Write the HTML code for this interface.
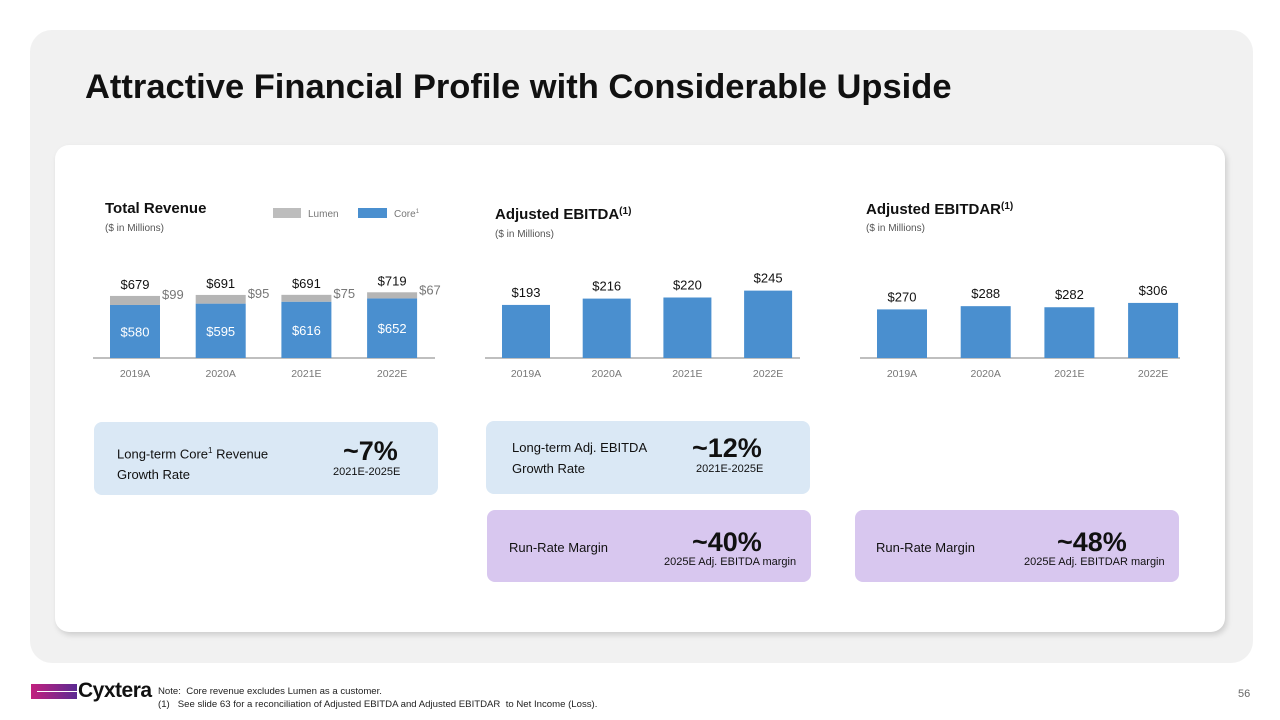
<!DOCTYPE html>
<html><head><meta charset="utf-8">
<style>
body{margin:0;width:1280px;height:720px;background:#fff;position:relative;overflow:hidden;font-family:"Liberation Sans",Arial,sans-serif;}
.abs{position:absolute;}
.panel{left:30px;top:30px;width:1223px;height:633px;background:#f1f1f1;border-radius:22px;}
.card{left:55px;top:145px;width:1170px;height:487px;background:#fff;border-radius:14px;box-shadow:2px 3px 6px rgba(0,0,0,0.15);}
h1{position:absolute;left:85px;top:68px;margin:0;font-size:34.5px;font-weight:bold;color:#111;white-space:nowrap;}
.box{position:absolute;border-radius:8px;}
.blue{background:#dae8f5;}
.purple{background:#d8c7ef;}
.t{position:absolute;font-size:13px;color:#111;line-height:21px;}
.big{position:absolute;font-size:27px;font-weight:bold;color:#111;}
.sm{position:absolute;font-size:11px;color:#111;}
</style></head><body>
<div class="abs panel"></div>
<div class="abs card"></div>
<h1>Attractive Financial Profile with Considerable Upside</h1>

<svg class="abs" style="left:0;top:0" width="1280" height="720" font-family="Liberation Sans, Arial, sans-serif">
<g id="c1"></g>
<g id="c2"></g>
<g id="c3"></g>
<text x="105" y="213" font-size="15" font-weight="bold" fill="#111">Total Revenue</text>
<text x="105" y="231" font-size="10" fill="#555">($ in Millions)</text>
<rect x="273" y="208" width="28" height="10" fill="#bdbdbd"/>
<text x="308" y="217" font-size="10" fill="#777">Lumen</text>
<rect x="358" y="208" width="29" height="10" fill="#4a8fcf"/>
<text x="394" y="217" font-size="10" fill="#777">Core<tspan font-size="6" dy="-4">1</tspan></text>
<text x="495" y="219" font-size="15" font-weight="bold" fill="#111">Adjusted EBITDA<tspan font-size="10" dy="-5">(1)</tspan></text>
<text x="495" y="237" font-size="10" fill="#555">($ in Millions)</text>
<text x="866" y="214" font-size="15" font-weight="bold" fill="#111">Adjusted EBITDAR<tspan font-size="10" dy="-5">(1)</tspan></text>
<text x="866" y="231" font-size="10" fill="#555">($ in Millions)</text>
</svg>

<div class="box blue" style="left:94px;top:422px;width:344px;height:73px;"></div>
<div class="t" style="left:117px;top:440px;">Long-term Core<sup style="font-size:8px">1</sup> Revenue<br>Growth Rate</div>
<div class="big" style="left:343px;top:436px;">~7%</div>
<div class="sm" style="left:333px;top:466px;">2021E-2025E</div>

<div class="box blue" style="left:486px;top:421px;width:324px;height:73px;"></div>
<div class="t" style="left:512px;top:437px;">Long-term Adj. EBITDA<br>Growth Rate</div>
<div class="big" style="left:692px;top:433px;">~12%</div>
<div class="sm" style="left:696px;top:463px;">2021E-2025E</div>

<div class="box purple" style="left:487px;top:510px;width:324px;height:72px;"></div>
<div class="t" style="left:509px;top:537px;">Run-Rate Margin</div>
<div class="big" style="left:692px;top:527px;">~40%</div>
<div class="sm" style="left:664px;top:556px;">2025E Adj. EBITDA margin</div>

<div class="box purple" style="left:855px;top:510px;width:324px;height:72px;"></div>
<div class="t" style="left:876px;top:537px;">Run-Rate Margin</div>
<div class="big" style="left:1057px;top:527px;">~48%</div>
<div class="sm" style="left:1024px;top:556px;">2025E Adj. EBITDAR margin</div>

<div class="abs" style="left:31px;top:684px;width:46px;height:15px;background:linear-gradient(90deg,#c2207e,#5b2a92);"><div style="position:absolute;left:6px;top:7px;width:40px;height:1px;background:#fff"></div></div>
<div class="abs" style="left:78px;top:679px;font-size:21px;font-weight:bold;color:#111;letter-spacing:-0.5px;">Cyxtera</div>
<div class="abs" style="left:158px;top:685px;font-size:9.6px;color:#222;line-height:13px;">Note:&nbsp; Core revenue excludes Lumen as a customer.<br>(1)&nbsp;&nbsp; See slide 63 for a reconciliation of Adjusted EBITDA and Adjusted EBITDAR&nbsp; to Net Income (Loss).</div>
<div class="abs" style="left:1238px;top:688px;font-size:11px;color:#666;">56</div>

<script>
const years = ["2019A","2020A","2021E","2022E"];
const coreRevenue = [580,595,616,652];
const lumenRevenue = [99,95,75,67];
const totalRevenue = [679,691,691,719];
const ebitda = [193,216,220,245];
const ebitdar = [270,288,282,306];
const NS="http://www.w3.org/2000/svg";
function mk(g,tag,attrs,txt){const e=document.createElementNS(NS,tag);for(const k in attrs)e.setAttribute(k,attrs[k]);if(txt!==undefined)e.textContent=txt;g.appendChild(e);return e;}
function axis(g,x0,x1,base,xs,w){
  const l=mk(g,'line',{x1:x0,x2:x1,y1:base,y2:base,stroke:'#aaa','stroke-width':1.5});
  
  
  years.forEach((y,i)=>{const t=mk(g,'text',{x:xs(i)+w/2,y:base+19,'font-size':10.5,fill:'#777','text-anchor':'middle'},y);
    
    });
}
(function(){
  const g=document.getElementById('c1');const base=358,sc=0.0914,w=50;
  const xs=i=>110+i*85.7;const ys=v=>v*sc;
  axis(g,93,435,base,xs,w);
  years.forEach((y,i)=>{
    const hc=ys(coreRevenue[i]),hl=ys(lumenRevenue[i]);
    const c=mk(g,'rect',{x:xs(i),y:base-hc,width:w,height:hc,fill:'#4a8fcf'});
    
    
    const l=mk(g,'rect',{x:xs(i),y:base-hc-hl,width:w,height:hl,fill:'#b5b5b5'});
    
    
    const t1=mk(g,'text',{x:xs(i)+w/2,y:base-hc/2+5,'font-size':13,fill:'#fff','text-anchor':'middle'},'$'+coreRevenue[i]);
    
    
    const t2=mk(g,'text',{x:xs(i)+w/2,y:base-hc-hl-7,'font-size':13,fill:'#111','text-anchor':'middle'},'$'+totalRevenue[i]);
    
    
    const t3=mk(g,'text',{x:xs(i)+w+2,y:base-hc-hl+3+(i==3?-1:0),'font-size':13,fill:'#777'},'$'+lumenRevenue[i]);
    
    
  });
})();
function simple(id,data,x0,x1,bx,step,w,sc,base){
  const g=document.getElementById(id);const xs=i=>bx+i*step;
  axis(g,x0,x1,base,xs,w);
  data.forEach((v,i)=>{const h=v*sc;
    const r=mk(g,'rect',{x:xs(i),y:base-h,width:w,height:h,fill:'#4a8fcf'});
    
    
    const t=mk(g,'text',{x:xs(i)+w/2,y:base-h-8,'font-size':13,fill:'#111','text-anchor':'middle'},'$'+v);
    
    
  });
}
simple('c2',ebitda,485,800,502,80.7,48,0.275,358);
simple('c3',ebitdar,860,1180,877,83.7,50,0.18,358);
</script>
</body></html>
